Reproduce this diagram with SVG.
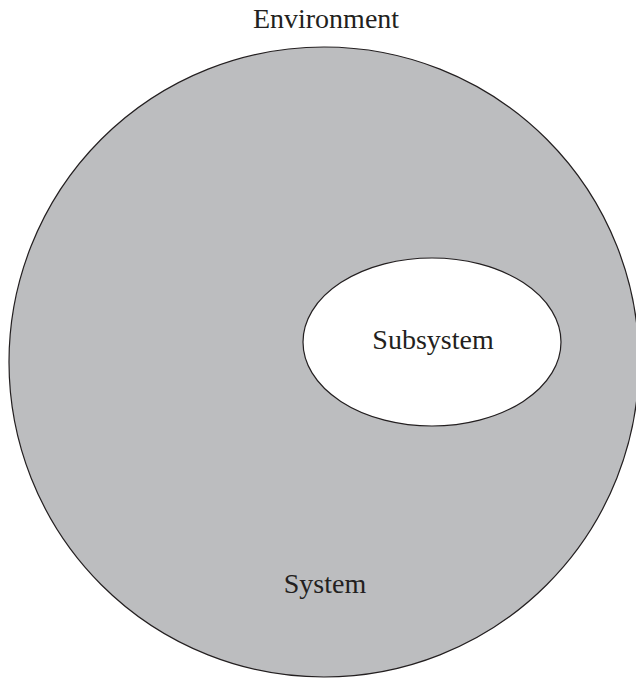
<svg xmlns="http://www.w3.org/2000/svg" width="636" height="678" viewBox="0 0 636 678">
  <style>
    .label { font-family: "Liberation Serif", "Times New Roman", serif; font-size: 28px; fill: #231f20; text-anchor: middle; }
    .outline { stroke: #231f20; stroke-width: 1.2; }
  </style>
  <rect width="636" height="678" fill="#ffffff"/>
  <g id="environment">
    <text class="label" x="326" y="28" font-size="27">Environment</text>
  </g>
  <g id="system">
    <circle class="outline" cx="324" cy="362" r="315" fill="#bcbdbf"/>
    <text class="label" x="325" y="593">System</text>
  </g>
  <g id="subsystem">
    <ellipse class="outline" cx="432" cy="342" rx="129" ry="84" fill="#ffffff"/>
    <text class="label" x="433" y="349">Subsystem</text>
  </g>
  <g id="connectors"/>
</svg>
